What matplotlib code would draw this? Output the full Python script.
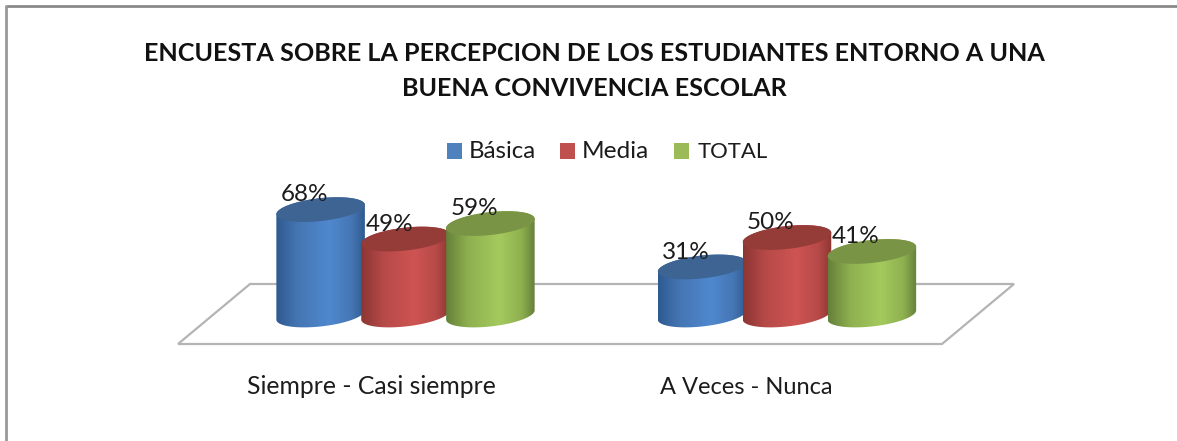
import numpy as np
import matplotlib
matplotlib.use("Agg")
import matplotlib.pyplot as plt
from matplotlib.patches import Polygon, Rectangle
from matplotlib.colors import LinearSegmentedColormap

categories = ["Siempre - Casi siempre", "A Veces - Nunca"]
series = ["Básica", "Media", "TOTAL"]
basica = [68, 31]
media = [49, 50]
total = [59, 41]
values = [basica, media, total]
side = [("#2f5a90", "#4576b4", "#5088cf"), ("#8c3532", "#b64a48", "#ce5452"), ("#64803a", "#8fb04f", "#a4ca5e")]
tops = ["#3d6492", "#953b38", "#7a9445"]
legend_colors = ["#4f81bd", "#c0504d", "#9bbb59"]
title = "ENCUESTA SOBRE LA PERCEPCION DE LOS ESTUDIANTES ENTORNO A UNA\nBUENA CONVIVENCIA ESCOLAR"

W, H = 1177, 441
fig = plt.figure(figsize=(W / 100, H / 100), dpi=100)
ax = fig.add_axes([0, 0, 1, 1])
# pixel-calibrated scales: one category = 381.5 px, 1 % = 1.55 px
PX_CAT, PX_PCT, X0, Y0 = 381.5, 1.55, 405.5, 315
ax.set_xlim((0 - X0) / PX_CAT, (W - X0) / PX_CAT)
ax.set_ylim((Y0 - H) / PX_PCT, Y0 / PX_PCT)
ax.axis("off")

def X(px):
    return (px - X0) / PX_CAT
def Y(py):
    return (Y0 - py) / PX_PCT

plt.rcParams["font.family"] = ["Lato", "DejaVu Sans"]

# outer frame: only the top and left edges show in the crop
ax.plot([X(5.5), X(1177)], [Y(6), Y(6)], color="#8a8a8a", lw=2, solid_capstyle="butt", zorder=1)
ax.plot([X(5.5), X(5.5)], [Y(5), Y(441)], color="#989898", lw=2, solid_capstyle="butt", zorder=1)
# floor
ax.add_patch(Polygon([(X(250), Y(284)), (X(178), Y(344)), (X(942), Y(344)), (X(1014), Y(284))],
                     closed=True, fill=False, ec="#b4b4b4", lw=1.6, zorder=2))

bar_w = 0.232   # category units
step = 0.2225
t = np.linspace(0, 2 * np.pi, 121)
a = bar_w / 2
b = 7.4         # ellipse half-height in %
tilt = 3.0      # rise in % across half the width

def ellipse(cx, cy):
    ex = cx + a * np.cos(t)
    ey = cy + b * np.sin(t) + tilt * np.cos(t)
    return ex, ey

z = 3
for c in range(len(categories)):
    for s in range(len(series)):
        v = values[s][c]
        cx = c + (s - 1) * step
        ex0, ey0 = ellipse(cx, 0)
        ex1, ey1 = ellipse(cx, v)
        lo = t >= np.pi
        hi = t <= np.pi
        bx = np.r_[ex0[lo], ex1[hi]]
        by = np.r_[ey0[lo], ey1[hi]]
        poly = Polygon(np.c_[bx, by], closed=True, fc="none", ec="none", zorder=z)
        ax.add_patch(poly)
        cmap = LinearSegmentedColormap.from_list(
            "g", [(0, side[s][0]), (0.25, side[s][1]), (0.6, side[s][2]), (0.85, side[s][1]), (1, side[s][0])])
        im = ax.imshow(np.linspace(0, 1, 256)[None, :], cmap=cmap, aspect="auto", zorder=z,
                       extent=(cx - a, cx + a, -b - tilt - 1, v + b + tilt + 1), interpolation="bilinear")
        im.set_clip_path(poly)
        ax.fill(ex1, ey1, color=tops[s], lw=0, zorder=z + 0.1)
        z += 1
for c in range(len(categories)):
    for s in range(len(series)):
        v = values[s][c]
        cx = c + (s - 1) * step
        ax.text(cx - 0.105, v + 9.6, f"{v}%", ha="left", va="center", fontsize=17.5,
                color="#1c1c1c", zorder=30)

ax.set_xlim((0 - X0) / PX_CAT, (W - X0) / PX_CAT)
ax.set_ylim((Y0 - H) / PX_PCT, Y0 / PX_PCT)

for c, (lab, fs) in enumerate(zip(categories, [17.8, 17.0])):
    ax.text(c - (0.089 if c == 0 else 0.106), Y(387), lab, ha="center", va="center", fontsize=fs,
            color="#1c1c1c")

ax.text(X(594.5), Y(71), title, ha="center", va="center", fontsize=18.05, fontweight="bold",
        color="#111111", linespacing=1.68)

# legend
for lx, tx, col, name, fs in zip([447, 560, 674], [469, 582, 698], legend_colors, series, [17.3, 17.6, 15.9]):
    ax.add_patch(Rectangle((X(lx), Y(158.5)), X(lx + 14.5) - X(lx), Y(142.5) - Y(158.5), fc=col, ec="none"))
    ax.text(X(tx), Y(152), name, ha="left", va="center", fontsize=fs, color="#1c1c1c")

fig.savefig("out.png", dpi=100, facecolor="white")
